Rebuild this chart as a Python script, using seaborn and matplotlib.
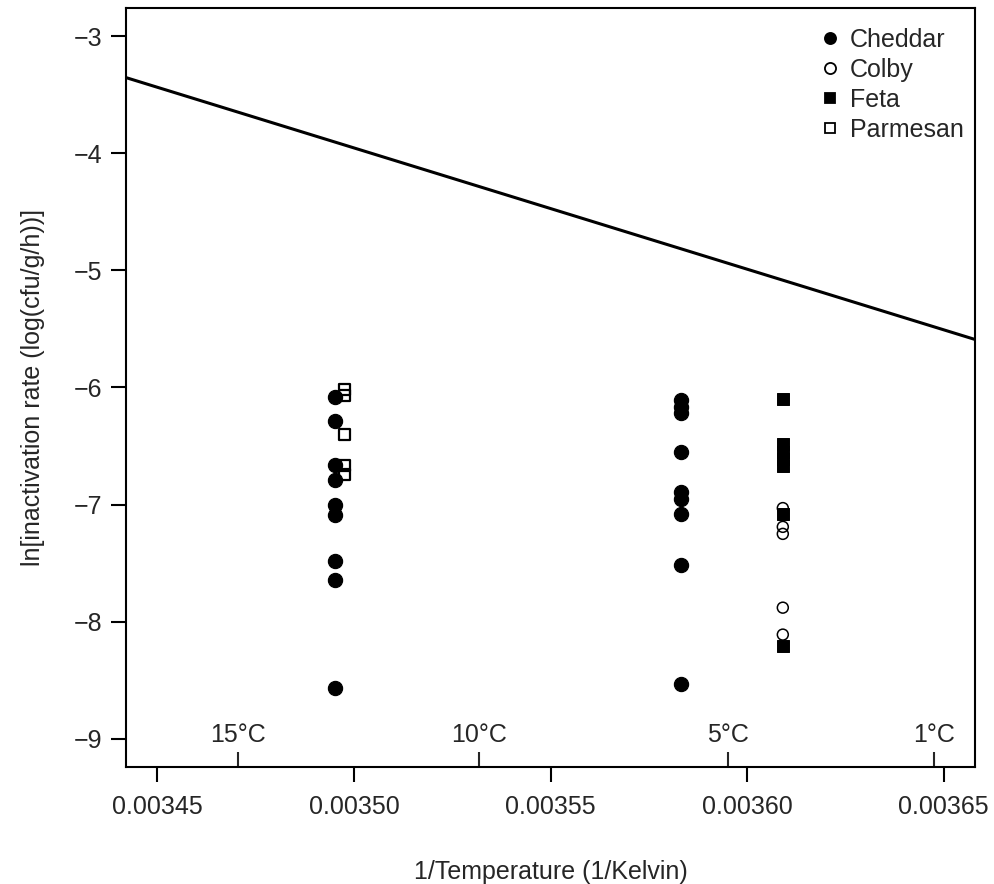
import numpy as np
import pandas as pd
import matplotlib
matplotlib.use('Agg')
import matplotlib.pyplot as plt
import seaborn as sns

# Данные: 1/T и ln(скорость инактивации) для каждого сыра
cheddar_x = [0.0034952] * 9 + [0.0035831] * 9
cheddar_y = [-6.08, -6.29, -6.66, -6.79, -7.00, -7.09, -7.48, -7.64, -8.57,
             -6.11, -6.17, -6.22, -6.55, -6.89, -6.95, -7.08, -7.52, -8.53]
colby_x = [0.0036091] * 5
colby_y = [-7.03, -7.19, -7.25, -7.88, -8.11]
feta_x = [0.0036091] * 7
feta_y = [-6.10, -6.48, -6.55, -6.61, -6.67, -7.08, -8.21]
parmesan_x = [0.0034975] * 5
parmesan_y = [-6.02, -6.07, -6.40, -6.67, -6.74]

# Линия Аррениуса: y = intercept + slope * x
line_intercept = 32.27
line_slope = -10350

temps_c = [15, 10, 5, 1]
x_ticks = [0.00345, 0.00350, 0.00355, 0.00360, 0.00365]
y_ticks = [-3, -4, -5, -6, -7, -8, -9]

df = pd.concat([
    pd.DataFrame({'x': cheddar_x, 'y': cheddar_y, 'cheese': 'Cheddar'}),
    pd.DataFrame({'x': colby_x, 'y': colby_y, 'cheese': 'Colby'}),
    pd.DataFrame({'x': feta_x, 'y': feta_y, 'cheese': 'Feta'}),
    pd.DataFrame({'x': parmesan_x, 'y': parmesan_y, 'cheese': 'Parmesan'}),
])

sns.set_style('white')
plt.rcParams['font.family'] = ['Liberation Sans', 'DejaVu Sans']
plt.rcParams['axes.linewidth'] = 1.5

fs = 18

fig = plt.figure(figsize=(9.94, 8.84), dpi=100)
ax = fig.add_axes([0.1268, 0.1324, 0.8541, 0.8586])

xlim = (0.003442, 0.003658)
ylim = (-9.24, -2.76)

# Стили маркеров
styles = {
    'Cheddar': dict(marker='o', s=105, color='black', edgecolor='black'),
    'Colby': dict(marker='o', s=62, facecolor='none', edgecolor='black', linewidth=1.1),
    'Feta': dict(marker='s', s=75, color='black', edgecolor='black'),
    'Parmesan': dict(marker='s', s=62, facecolor='none', edgecolor='black', linewidth=1.6),
}
for name in ['Cheddar', 'Colby', 'Feta', 'Parmesan']:
    sub = df[df['cheese'] == name]
    sns.scatterplot(x='x', y='y', data=sub, ax=ax, legend=False, zorder=3, **styles[name])

xs = np.array(xlim)
sns.lineplot(x=xs, y=line_intercept + line_slope * xs, ax=ax, color='black', linewidth=2.2)

ax.set_xlim(xlim)
ax.set_ylim(ylim)
ax.set_xticks(x_ticks)
ax.set_xticklabels(['%.5f' % v for v in x_ticks])
ax.set_yticks(y_ticks)
ax.set_yticklabels(['\u2212%d' % abs(v) for v in y_ticks])
ax.tick_params(axis='both', direction='out', length=11, width=1.5, labelsize=fs,
               color='black', bottom=True, left=True)
ax.tick_params(axis='x', pad=9)
ax.tick_params(axis='y', pad=6)
for sp in ax.spines.values():
    sp.set_color('black')
    sp.set_visible(True)

ax.set_xlabel('1/Temperature (1/Kelvin)', fontsize=fs, labelpad=30)
ax.set_ylabel('ln[inactivation rate (log(cfu/g/h))]', fontsize=fs, labelpad=21)

# Шкала температур внутри графика
sec = ax.secondary_xaxis('bottom')
sec.set_xticks([1 / (t + 273.15) for t in temps_c])
sec.set_xticklabels(['%d\u00b0C' % t for t in temps_c])
sec.tick_params(direction='in', length=11, width=1.5, labelsize=fs, pad=-32, bottom=True)
sec.spines['bottom'].set_visible(False)

# Легенда
handles = []
for name in ['Cheddar', 'Colby', 'Feta', 'Parmesan']:
    st = styles[name]
    h = plt.Line2D([], [], linestyle='none', marker=st['marker'],
                   markersize=8 if st['marker'] == 'o' else 7.5,
                   markerfacecolor=st.get('facecolor', 'black'),
                   markeredgecolor='black', markeredgewidth=1.3)
    handles.append(h)
ax.legend(handles, ['Cheddar', 'Colby', 'Feta', 'Parmesan'], loc='upper right',
          bbox_to_anchor=(1.0, 0.989),
          frameon=False, fontsize=fs, handletextpad=0.3, labelspacing=0.24,
          borderaxespad=0.0, handlelength=1.0, borderpad=0.45)

fig.savefig('out.png', dpi=100)
